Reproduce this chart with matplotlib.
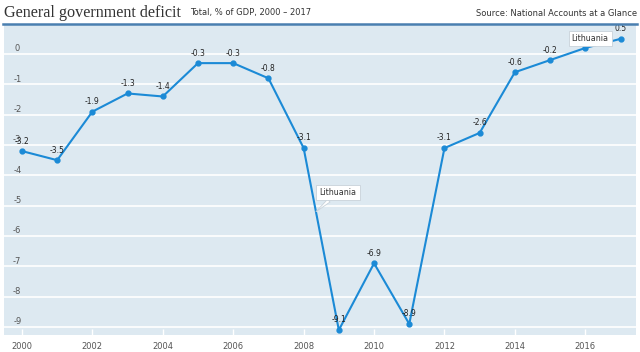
import matplotlib
matplotlib.use("Agg")
import matplotlib.pyplot as plt
import matplotlib.transforms as mtransforms

years = list(range(2000, 2018))
values = [-3.2, -3.5, -1.9, -1.3, -1.4, -0.3, -0.3, -0.8, -3.1, -9.1,
          -6.9, -8.9, -3.1, -2.6, -0.6, -0.2, 0.2, 0.5]
labels = ["-3.2", "-3.5", "-1.9", "-1.3", "-1.4", "-0.3", "-0.3", "-0.8", "-3.1", "-9.1",
          "-6.9", "-8.9", "-3.1", "-2.6", "-0.6", "-0.2", "0.2", "0.5"]
yticks = [0, -1, -2, -3, -4, -5, -6, -7, -8, -9]
xticks = list(range(2000, 2017, 2))
country = "Lithuania"

W, H = 640, 352
fig = plt.figure(figsize=(W / 100, H / 100), dpi=100)
fig.patch.set_facecolor("white")

def px(x0, y0, x1, y1):
    return [x0 / W, 1 - y1 / H, (x1 - x0) / W, (y1 - y0) / H]

ax = fig.add_axes(px(4, 25, 636, 335))
ax.set_facecolor("#dde9f1")
for s in ax.spines.values():
    s.set_visible(False)
ax.set_xlim(1999.49, 2017.44)
ax.set_ylim(-9.264, 0.957)

line_color = "#1b8ad6"
for t in yticks:
    ax.axhline(t, color="white", lw=1.2, zorder=1)
ax.set_yticks([])
ax.set_xticks(xticks)
ax.set_xticklabels([str(x) for x in xticks], fontsize=6, color="#555555",
                   family="Liberation Sans Narrow")
ax.tick_params(axis="x", direction="in", length=4, width=1, color="white", pad=5)

trans = mtransforms.blended_transform_factory(ax.transAxes, ax.transData)
for t in yticks:
    ax.annotate(str(t), (0.021, t), xycoords=trans, xytext=(0, 2),
                textcoords="offset points", fontsize=6, color="#555555",
                ha="center", va="baseline", family="Liberation Sans Narrow")

ax.plot(years, values, color=line_color, lw=1.5, marker="o", ms=3.5, zorder=3)

for x, v, l in zip(years, values, labels):
    if x == 2016:
        continue
    ax.annotate(l, (x, v), xytext=(0, 4), textcoords="offset points",
                ha="center", va="bottom", fontsize=5.5, color="#222222", zorder=4,
                family="DejaVu Sans")

# top rule
fig.add_artist(plt.Line2D([3 / W, 637 / W], [1 - 24 / H, 1 - 24 / H],
                          color="#4a7fb0", lw=1.8))

# tooltips
tip = dict(boxstyle="square,pad=0.4", fc="white", ec="#c8d2da", lw=0.6)
arr = dict(arrowstyle="wedge,tail_width=0.45,shrink_factor=0.5", fc="white",
           ec="#c8d2da", lw=0.6, shrinkA=0, shrinkB=0)
ax.annotate(country, xy=(2008.35, -5.2), xytext=(2008.98, -4.57),
            ha="center", va="center", fontsize=5.8, color="#333333",
            bbox=tip, arrowprops=arr, zorder=6, family="DejaVu Sans")
ax.annotate(country, xy=(2016.76, 0.43), xytext=(2016.14, 0.51),
            ha="center", va="center", fontsize=5.8, color="#333333",
            bbox=tip, arrowprops=arr, zorder=6, family="DejaVu Sans")

fig.text(4 / W, 1 - 13 / H, "General government deficit", fontsize=11.6,
         family="Liberation Serif", color="#333333", va="center", ha="left")
fig.text(190 / W, 1 - 13 / H, "Total, % of GDP, 2000 \u2013 2017", fontsize=6,
         family="Liberation Sans Narrow", color="#333333", va="center", ha="left")
fig.text(637 / W, 1 - 13 / H, "Source: National Accounts at a Glance", fontsize=6,
         family="Liberation Sans Narrow", color="#333333", va="center", ha="right")

fig.savefig("out.png", dpi=100, facecolor="white")
